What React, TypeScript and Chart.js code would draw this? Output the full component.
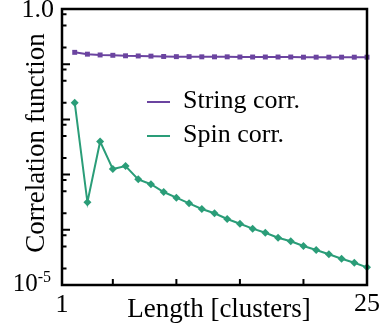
import React, { useEffect, useRef } from "react";
import { Chart, registerables } from "chart.js";

Chart.register(...registerables);

const lengths = [2, 3, 4, 5, 6, 7, 8, 9, 10, 11, 12, 13, 14, 15, 16, 17, 18, 19, 20, 21, 22, 23, 24, 25];
const stringCorr = [0.164, 0.152, 0.147, 0.145, 0.142, 0.141, 0.140, 0.138, 0.137, 0.137, 0.136, 0.136, 0.136, 0.135, 0.135, 0.135, 0.135, 0.135, 0.134, 0.134, 0.134, 0.134, 0.134, 0.134];
const spinCorr = [0.0201, 3.15e-4, 3.98e-3, 1.26e-3, 1.43e-3, 8.2e-4, 6.7e-4, 4.84e-4, 3.82e-4, 3.02e-4, 2.38e-4, 1.99e-4, 1.57e-4, 1.29e-4, 1.05e-4, 8.86e-5, 7.19e-5, 6.19e-5, 5.09e-5, 4.31e-5, 3.6e-5, 2.99e-5, 2.53e-5, 2.09e-5];
const seriesNames = ["String corr.", "Spin corr."];
const xTicks = [5, 10, 15, 20];
const xLabels = ["1", "25"];
const yMajor = [1e-4, 1e-3, 1e-2, 1e-1];
const yMinorMult = [2, 5, 8];
const xTitle = "Length [clusters]";
const yTitle = "Correlation function";

const PURPLE = "#6b44a0";
const GREEN = "#2a9d78";
const FONT = "'Liberation Serif', 'Times New Roman', serif";

const framePlugin = {
  id: "frame",
  afterDraw(chart: any) {
    const { ctx, chartArea: a, scales } = chart;
    const x = scales.x;
    const y = scales.y;
    ctx.save();
    ctx.strokeStyle = "#000";
    ctx.lineWidth = 2.5;
    ctx.strokeRect(a.left, a.top, a.right - a.left, a.bottom - a.top);
    ctx.lineWidth = 2;
    ctx.beginPath();
    for (const v of xTicks) {
      const px = x.getPixelForValue(v);
      ctx.moveTo(px, a.bottom);
      ctx.lineTo(px, a.bottom - 6);
    }
    for (const m of yMajor) {
      const py = y.getPixelForValue(m);
      ctx.moveTo(a.left, py);
      ctx.lineTo(a.left + 8, py);
    }
    for (let e = -5; e < 0; e++) {
      for (const k of yMinorMult) {
        const v = k * Math.pow(10, e);
        const py = y.getPixelForValue(v);
        ctx.moveTo(a.left, py);
        ctx.lineTo(a.left + 4.5, py);
      }
    }
    ctx.stroke();

    ctx.fillStyle = "#000";
    ctx.font = `26px ${FONT}`;
    ctx.textBaseline = "alphabetic";
    ctx.textAlign = "center";
    ctx.fillText(xLabels[0], x.getPixelForValue(1), 312);
    ctx.fillText(xLabels[1], x.getPixelForValue(25), 311);
    ctx.textAlign = "right";
    ctx.fillText("1.0", a.left - 8, y.getPixelForValue(1) + 8);
    // 10^-5
    ctx.font = `16px ${FONT}`;
    const supW = ctx.measureText("-5").width;
    ctx.textAlign = "right";
    ctx.fillText("-5", a.left - 11, y.getPixelForValue(1e-5) - 3);
    ctx.font = `25px ${FONT}`;
    ctx.fillText("10", a.left - 11 - supW, y.getPixelForValue(1e-5) + 6);

    ctx.font = `27px ${FONT}`;
    ctx.textAlign = "center";
    ctx.fillText(xTitle, 219, 317);
    ctx.save();
    ctx.translate(44, 143);
    ctx.rotate(-Math.PI / 2);
    ctx.fillText(yTitle, 0, 0);
    ctx.restore();

    // legend
    const ds = chart.data.datasets;
    const ly = [102, 136];
    ctx.font = `26px ${FONT}`;
    ctx.textAlign = "left";
    ds.forEach((d: any, i: number) => {
      ctx.strokeStyle = d.borderColor;
      ctx.lineWidth = 2;
      ctx.beginPath();
      ctx.moveTo(147, ly[i]);
      ctx.lineTo(170, ly[i]);
      ctx.stroke();
      ctx.fillStyle = "#000";
      ctx.fillText(d.label, 183, ly[i] + 6);
    });
    ctx.restore();
  },
};

export default function App() {
  const ref = useRef<HTMLCanvasElement | null>(null);
  useEffect(() => {
    if (!ref.current) return;
    const chart = new Chart(ref.current, {
      type: "line",
      data: {
        labels: lengths,
        datasets: [
          {
            label: seriesNames[0],
            data: lengths.map((l, i) => ({ x: l, y: stringCorr[i] })),
            borderColor: PURPLE,
            backgroundColor: PURPLE,
            borderWidth: 2,
            pointStyle: "rect",
            pointRadius: 3.5,
            pointBorderWidth: 0,
            clip: false,
          } as any,
          {
            label: seriesNames[1],
            data: lengths.map((l, i) => ({ x: l, y: spinCorr[i] })),
            borderColor: GREEN,
            backgroundColor: GREEN,
            borderWidth: 2,
            pointStyle: "rectRot",
            pointRadius: 4,
            pointBorderWidth: 0,
            clip: false,
          } as any,
        ],
      },
      options: {
        animation: false,
        responsive: true,
        maintainAspectRatio: false,
        layout: { padding: { left: 62, right: 20, top: 9, bottom: 41 } },
        plugins: { legend: { display: false }, tooltip: { enabled: false } },
        scales: {
          x: { type: "linear", min: 1, max: 25, display: false },
          y: { type: "logarithmic", min: 1e-5, max: 1, display: false },
        },
      },
      plugins: [framePlugin],
    });
    return () => chart.destroy();
  }, []);
  return (
    <div style={{ position: "fixed", left: 0, top: 0, width: 387, height: 326, background: "#fff" }}>
      <canvas ref={ref} />
    </div>
  );
}
